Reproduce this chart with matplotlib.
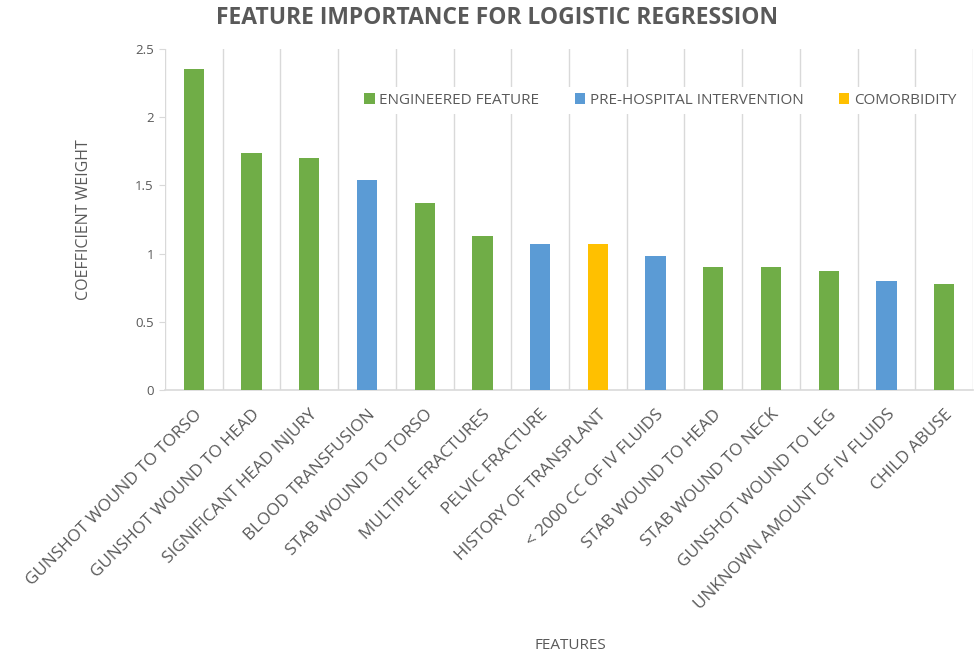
import numpy as np
import matplotlib.pyplot as plt
from matplotlib.patches import Patch

features = [
    "GUNSHOT WOUND TO TORSO",
    "GUNSHOT WOUND TO HEAD",
    "SIGNIFICANT HEAD INJURY",
    "BLOOD TRANSFUSION",
    "STAB WOUND TO TORSO",
    "MULTIPLE FRACTURES",
    "PELVIC FRACTURE",
    "HISTORY OF TRANSPLANT",
    "< 2000 CC OF IV FLUIDS",
    "STAB WOUND TO HEAD",
    "STAB WOUND TO NECK",
    "GUNSHOT WOUND TO LEG",
    "UNKNOWN AMOUNT OF IV FLUIDS",
    "CHILD ABUSE",
]
weights = [2.35, 1.74, 1.70, 1.54, 1.37, 1.13, 1.07, 1.07, 0.98, 0.90, 0.90, 0.87, 0.80, 0.78]
groups = ["eng", "eng", "eng", "pre", "eng", "eng", "pre", "com", "pre", "eng", "eng", "eng", "pre", "eng"]

group_labels = {
    "eng": "ENGINEERED FEATURE",
    "pre": "PRE-HOSPITAL INTERVENTION",
    "com": "COMORBIDITY",
}
group_colors = {"eng": "#70AD47", "pre": "#5B9BD5", "com": "#FFC000"}

plt.rcParams["font.family"] = ["Open Sans", "DejaVu Sans"]
text_color = "#595959"
grid_color = "#D9D9D9"

fig = plt.figure(figsize=(9.74, 6.55), dpi=100)
ax = fig.add_axes([0.1694, 0.4046, 0.8296, 0.5206])

x = np.arange(len(features))
ax.bar(x, weights, width=0.35, color=[group_colors[g] for g in groups], zorder=3)

ax.set_xlim(-0.5, len(features) - 0.5)
ax.set_ylim(0, 2.5)
ax.set_yticks([0, 0.5, 1, 1.5, 2, 2.5])
ax.set_yticklabels(["0", "0.5", "1", "1.5", "2", "2.5"], fontsize=9.5, color=text_color)

# vertical gridlines between categories
for b in np.arange(-0.5, len(features), 1.0):
    ax.axvline(b, color=grid_color, linewidth=1.0, zorder=1)

ax.set_xticks(x)
ax.set_xticklabels(features, rotation=45, ha="right", rotation_mode="anchor",
                   fontsize=12.3, color=text_color)
ax.tick_params(axis="x", length=0, pad=12)
ax.tick_params(axis="y", length=4, color=grid_color, pad=4)

for side in ["top", "right", "left"]:
    ax.spines[side].set_visible(False)
ax.spines["bottom"].set_color(grid_color)
ax.spines["bottom"].set_linewidth(1.2)

ax.set_ylabel("COEFFICIENT WEIGHT", fontsize=11.5, color=text_color, labelpad=31)
fig.text(0.586, 0.015, "FEATURES", ha="center", va="center", fontsize=11, color=text_color)

fig.text(0.51, 0.972, "FEATURE IMPORTANCE FOR LOGISTIC REGRESSION", ha="center", va="center",
         fontsize=16.5, fontweight="bold", color=text_color)

handles = [Patch(facecolor=group_colors[k], label=v) for k, v in group_labels.items()]
leg = ax.legend(handles=handles, loc="center", bbox_to_anchor=(0.613, 0.85), ncol=3,
                frameon=True, fancybox=False, edgecolor="none", facecolor="white", framealpha=1,
                handlelength=0.7, handleheight=0.7, handletextpad=0.3, columnspacing=2.3,
                fontsize=11)
for t in leg.get_texts():
    t.set_color(text_color)
leg.set_zorder(5)

fig.savefig("out.png", dpi=100)
